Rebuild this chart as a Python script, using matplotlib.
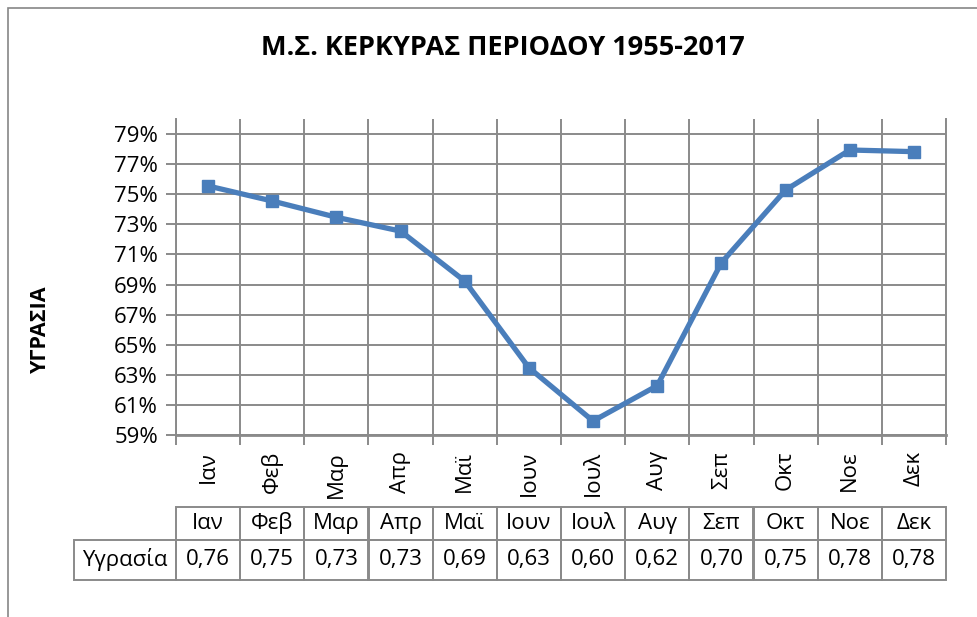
import numpy as np
import matplotlib.pyplot as plt
from matplotlib.patches import Rectangle
from matplotlib.transforms import blended_transform_factory

plt.rcParams['font.family'] = ['Open Sans', 'DejaVu Sans']

# data
months = ['Ιαν', 'Φεβ', 'Μαρ', 'Απρ', 'Μαϊ', 'Ιουν', 'Ιουλ', 'Αυγ', 'Σεπ', 'Οκτ', 'Νοε', 'Δεκ']
humidity = [0.7555, 0.7455, 0.7347, 0.7255, 0.6923, 0.6347, 0.5993, 0.6228, 0.7045, 0.7528, 0.7794, 0.7783]
series_name = 'Υγρασία'
title = 'Μ.Σ. ΚΕΡΚΥΡΑΣ ΠΕΡΙΟΔΟΥ 1955-2017'
ylabel = 'ΥΓΡΑΣΙΑ'
yticks = np.arange(0.59, 0.795, 0.02)

W, H = 978, 617
fig = plt.figure(figsize=(W / 100, H / 100), dpi=100)
ax = fig.add_axes([176 / W, 1 - 435 / H, 770 / W, 316 / H])

grid_c = '#8a8a8a'
line_c = '#4a7ebb'

x = np.arange(len(months))
ax.plot(x, humidity, color=line_c, lw=3.8, marker='s', ms=8.5, zorder=3)

ax.set_xlim(-0.5, len(months) - 0.5)
ax.set_ylim(0.59, 0.80)
ax.set_yticks(yticks)
ax.set_yticklabels([f'{v * 100:.0f}%' for v in yticks], fontsize=16)
ax.yaxis.grid(True, color=grid_c, lw=1.4)

# category boundaries: gridlines + tick marks
bounds = np.arange(-0.5, len(months), 1.0)
ax.set_xticks(bounds)
ax.set_xticklabels([])
ax.xaxis.grid(True, color=grid_c, lw=1.4)
ax.tick_params(axis='x', length=7, width=1.4, color=grid_c, direction='out')
ax.tick_params(axis='y', length=7, width=1.4, color=grid_c, direction='out', pad=6)

ax.spines['top'].set_visible(False)
for s in ['left', 'right', 'bottom']:
    ax.spines[s].set_color(grid_c)
    ax.spines[s].set_linewidth(1.4)
ax.spines['bottom'].set_linewidth(2)

trans = blended_transform_factory(ax.transData, ax.transAxes)

# rotated category labels
for i, m in enumerate(months):
    ax.text(i, -0.05, m, rotation=90, ha='center', va='top', fontsize=16,
            transform=trans)

# data table
y_top, y_mid, y_bot = -0.228, -0.332, -0.459
cell_ec = '#8a8a8a'
for i, m in enumerate(months):
    ax.add_patch(Rectangle((i - 0.5, y_mid), 1, y_top - y_mid, transform=trans,
                           fill=False, ec=cell_ec, lw=1.4, clip_on=False))
    ax.add_patch(Rectangle((i - 0.5, y_bot), 1, y_mid - y_bot, transform=trans,
                           fill=False, ec=cell_ec, lw=1.4, clip_on=False))
    ax.text(i, (y_top + y_mid) / 2, m, ha='center', va='center', fontsize=16,
            transform=trans)
    ax.text(i, (y_mid + y_bot) / 2, f'{humidity[i]:.2f}'.replace('.', ','),
            ha='center', va='center', fontsize=16, transform=trans)

lab_left = -102 / 770
ax.add_patch(Rectangle((lab_left, y_bot), -lab_left, y_mid - y_bot,
                       transform=ax.transAxes, fill=False, ec=cell_ec, lw=1.4,
                       clip_on=False))
ax.text(lab_left / 2, (y_mid + y_bot) / 2, series_name, ha='center', va='center',
        fontsize=16, transform=ax.transAxes)

# titles
fig.text(503 / W, 1 - 48 / H, title, ha='center', va='center', fontsize=19.5,
         fontweight='bold')
fig.text(40 / W, 1 - 329 / H, ylabel, ha='center', va='center', fontsize=15.5,
         fontweight='bold', rotation=90)

# chart border
fig.patches.append(Rectangle((8 / W, -0.1), 2, 1 - 8 / H + 0.1,
                             transform=fig.transFigure, fill=False,
                             ec='#868686', lw=1.2))

fig.savefig('out.png', dpi=100)
